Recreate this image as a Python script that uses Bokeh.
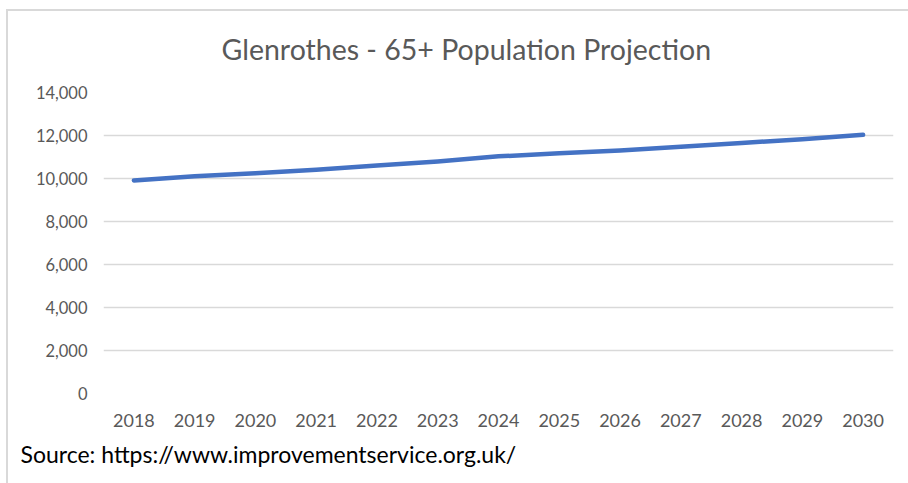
from bokeh.plotting import figure
from bokeh.layouts import column
from bokeh.models import (FactorRange, Range1d, FixedTicker, NumeralTickFormatter,
                          Title, InlineStyleSheet)
from bokeh.embed import file_html
from bokeh.resources import INLINE

years = ["2018", "2019", "2020", "2021", "2022", "2023", "2024",
         "2025", "2026", "2027", "2028", "2029", "2030"]
population = [9910, 10100, 10240, 10410, 10610, 10790, 11030,
              11170, 11300, 11480, 11650, 11830, 12030]
y_ticks = [0, 2000, 4000, 6000, 8000, 10000, 12000, 14000]
title_text = "Glenrothes - 65+ Population Projection"
source_text = "Source: https://www.improvementservice.org.uk/"

FONT = "Lato"
GREY = "#595959"

border_css = InlineStyleSheet(css="""
:host { position: relative; }
:host::after {
  content: "";
  position: absolute;
  left: 6px; top: 9px; right: -20px; bottom: -20px;
  border-left: 2px solid #d9d9d9;
  border-top: 2px solid #d9d9d9;
  pointer-events: none;
  z-index: 10;
}
""")

p = figure(width=900, height=475, x_range=FactorRange(*years),
           y_range=Range1d(0, 14000), output_backend="svg",
           toolbar_location=None, tools="")
p.min_border_left = 103
p.min_border_right = 7
p.min_border_top = 92
p.min_border_bottom = 82
p.outline_line_color = None
p.background_fill_color = "white"
p.border_fill_color = "white"

p.xgrid.grid_line_color = None
p.ygrid.grid_line_color = "#d9d9d9"
p.ygrid.grid_line_width = 1.5

p.yaxis.ticker = FixedTicker(ticks=y_ticks)
p.yaxis.formatter = NumeralTickFormatter(format="0,0")
for ax in (p.xaxis, p.yaxis):
    ax.axis_line_color = None
    ax.major_tick_line_color = None
    ax.minor_tick_line_color = None
    ax.major_tick_out = 0
    ax.major_tick_in = 0
    ax.major_label_text_font = FONT
    ax.major_label_text_color = GREY
p.xaxis.major_label_text_font_size = "18px"
p.yaxis.major_label_text_font_size = "16.5px"
p.yaxis.major_label_standoff = 16
p.xaxis.major_label_standoff = 20

p.line(x=years, y=population, line_width=4.5, line_color="#4472C4",
       line_cap="round", line_join="round")

p.add_layout(Title(text=title_text, align="left", offset=118, standoff=54,
                   text_font=FONT, text_font_size="28.5px", text_color=GREY,
                   text_font_style="normal"), "above")
p.add_layout(Title(text=source_text, align="left", offset=-83, standoff=16,
                   text_font=FONT, text_font_size="23px", text_color="#000000",
                   text_font_style="normal"), "below")

layout = column(p, stylesheets=[border_css])

open("out.html", "w").write(file_html(layout, INLINE))
